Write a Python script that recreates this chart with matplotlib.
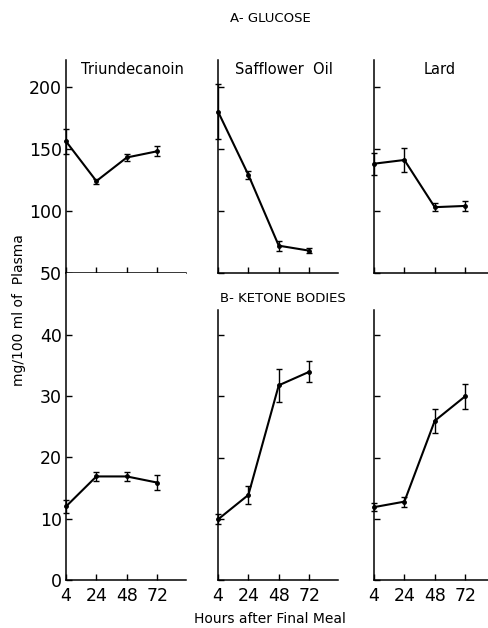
import numpy as np
import matplotlib.pyplot as plt

plt.rcParams['font.family'] = ['DejaVu Sans']

hours = ['4', '24', '48', '72']
diets = ['Triundecanoin', 'Safflower  Oil', 'Lard']

# A - glucose (mg/100 ml)
glucose_mean = [
    [156, 124, 143, 148],   # Triundecanoin
    [180, 129, 72, 68],     # Safflower oil
    [138, 141, 103, 104],   # Lard
]
glucose_err = [
    [10, 2, 3, 4],
    [22, 3, 4, 2],
    [9, 10, 3, 4],
]

# B - ketone bodies (mg/100 ml)
ketone_mean = [
    [12.0, 16.9, 16.9, 15.9],
    [9.9, 13.9, 31.8, 34.0],
    [11.9, 12.8, 26.0, 30.0],
]
ketone_err = [
    [1.0, 0.7, 0.7, 1.2],
    [0.8, 1.5, 2.7, 1.7],
    [0.7, 0.8, 2.0, 2.0],
]

W, H = 489, 628
fig = plt.figure(figsize=(W / 100, H / 100), dpi=100)

lefts = [66, 218, 374]
width = 120
x = np.arange(len(hours))


def px_axes(left, top, bottom):
    return fig.add_axes([left / W, (H - bottom) / H, width / W, (bottom - top) / H])


def style(ax):
    for s in ['top', 'right']:
        ax.spines[s].set_visible(False)
    for s in ['left', 'bottom']:
        ax.spines[s].set_linewidth(1.1)
    ax.tick_params(direction='in', length=4, width=1.0, labelsize=12.5, pad=3)
    ax.set_xticks(x)
    ax.set_xlim(0, 3.95)


for i in range(3):
    # glucose
    ax = px_axes(lefts[i], 60, 273)
    style(ax)
    ax.errorbar(x, glucose_mean[i], yerr=glucose_err[i], color='black', lw=1.5,
                marker='o', ms=2.5, capsize=2, elinewidth=1.0, capthick=1.0,
                clip_on=False)
    ax.set_ylim(50, 221.5)
    ax.set_yticks([50, 100, 150, 200])
    ax.set_xticklabels([])
    ax.text(0.55, 0.955, diets[i], transform=ax.transAxes, ha='center', va='center',
            fontsize=10.5)
    if i > 0:
        ax.set_yticklabels([])

    # ketone bodies
    if i == 0:
        ax2 = px_axes(lefts[i], 273, 580)
        ax2.set_ylim(0, 50.1)
    else:
        ax2 = px_axes(lefts[i], 310, 580)
        ax2.set_ylim(0, 44.1)
    style(ax2)
    ax2.errorbar(x, ketone_mean[i], yerr=ketone_err[i], color='black', lw=1.5,
                 marker='o', ms=2.5, capsize=2, elinewidth=1.0, capthick=1.0,
                 clip_on=False)
    ax2.set_yticks([0, 10, 20, 30, 40])
    ax2.set_xticklabels(hours)
    ax2.tick_params(axis='x', pad=5)
    if i > 0:
        ax2.set_yticklabels([])

fig.text(270 / W, 1 - 18 / H, 'A- GLUCOSE', ha='center', va='center', fontsize=9.5)
fig.text(283 / W, 1 - 298 / H, 'B- KETONE BODIES', ha='center', va='center', fontsize=9.5)
fig.text(270 / W, 1 - 619 / H, 'Hours after Final Meal', ha='center', va='center',
         fontsize=10)
fig.text(19 / W, 1 - 310 / H, 'mg/100 ml of  Plasma', ha='center', va='center',
         rotation=90, fontsize=10)

fig.savefig('out.png', dpi=100)
